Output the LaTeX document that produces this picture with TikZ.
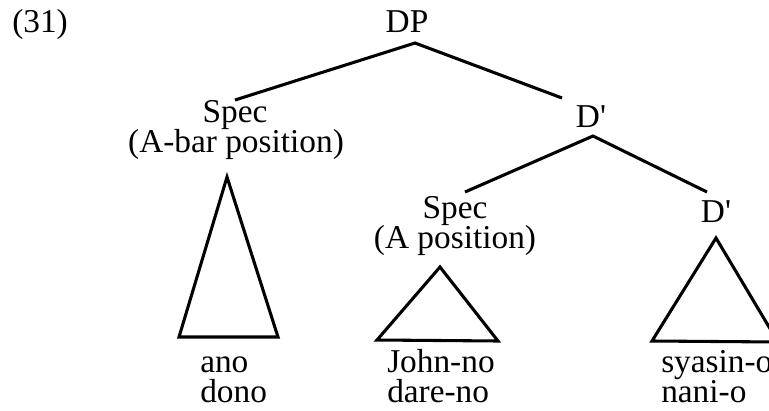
\documentclass[tikz,border=0pt]{standalone}
\usepackage{fontspec}
\setmainfont{Liberation Serif}[Ligatures=TeXOff]
\begin{document}
\begin{tikzpicture}[x=0.75pt,y=-0.75pt,
  lbl/.style={inner sep=0pt,anchor=base,font=\fontsize{25}{22}\selectfont},
  leaf/.style={lbl,anchor=base west},
  branch/.style={line width=2.3pt},
  tri/.style={line width=2.3pt,line join=miter}]
\useasboundingbox (0,0) rectangle (769,411);

% example number
\node[leaf] (num) at (12,32) {(31)};

% labels of the tree
\node[lbl] (dp)      at (407,32)  {DP};
\node[lbl] (specA)   at (235,122) {Spec};
\node[lbl] (specAc)  at (236,152) {(A-bar position)};
\node[lbl] (dbar)    at (591,127) {D'};
\node[lbl] (specB)   at (455,218) {Spec};
\node[lbl] (specBc)  at (455,248) {(A position)};
\node[lbl] (dbarB)   at (716,222) {D'};

% branch points
\coordinate (dpApex)  at (415,43);
\coordinate (specTop) at (235,100);
\coordinate (dbarTop) at (562,98);
\coordinate (dbApex)  at (593,136);
\coordinate (sbTop)   at (465,192);
\coordinate (dbbTop)  at (707,192);

\draw[branch] (specTop) -- (dpApex) -- (dbarTop);
\draw[branch] (sbTop) -- (dbApex) -- (dbbTop);

% triangles
\coordinate (t1a) at (227,177);
\coordinate (t1l) at (179,337);
\coordinate (t1r) at (278,337);
\coordinate (t2a) at (440,267);
\coordinate (t2l) at (377,340);
\coordinate (t2r) at (498,341);
\coordinate (t3a) at (716,238);
\coordinate (t3l) at (652,341);
\coordinate (t3r) at (778,342);
\draw[tri] (t1a) -- (t1l) -- (t1r) -- cycle;
\draw[tri] (t2a) -- (t2l) -- (t2r) -- cycle;
\draw[tri] (t3a) -- (t3l) -- (t3r) -- cycle;

% terminal strings
\node[leaf] (ano)   at (200,372) {ano};
\node[leaf] (dono)  at (200,402) {dono};
\node[leaf] (john)  at (387,372) {John-no};
\node[leaf] (dare)  at (387,402) {dare-no};
\node[leaf] (syas)  at (661,372) {syasin-o};
\node[leaf] (nani)  at (661,402) {nani-o};
\end{tikzpicture}
\end{document}
